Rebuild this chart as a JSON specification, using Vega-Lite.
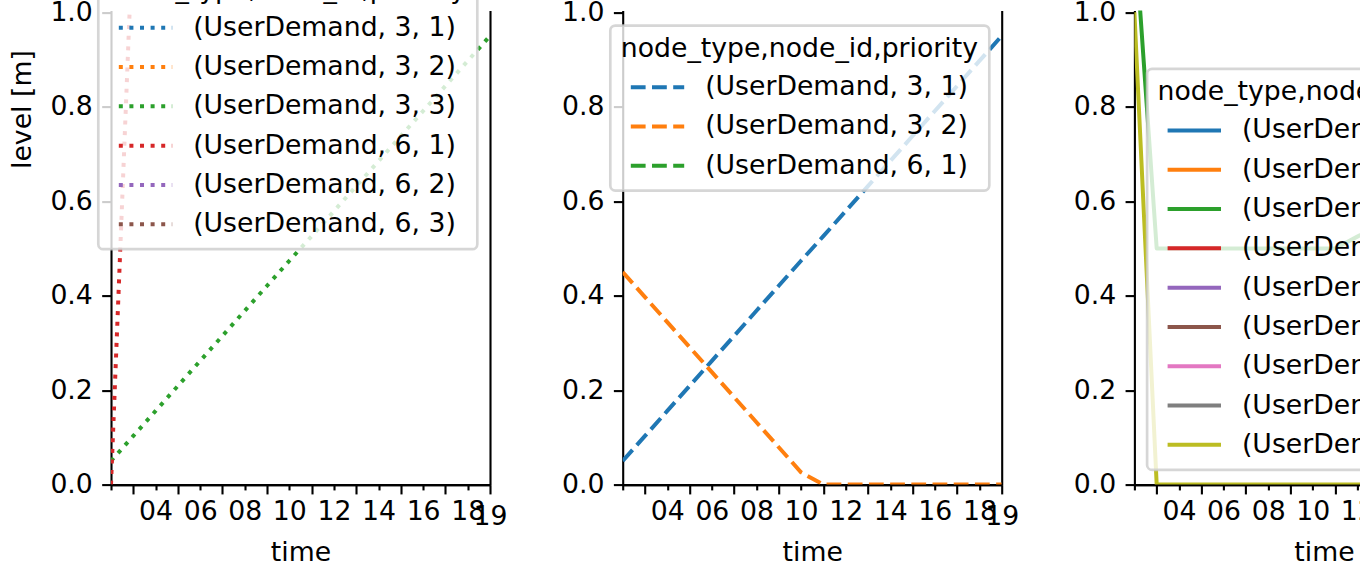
{
  "$schema": "https://vega.github.io/schema/vega-lite/v6.json",
  "background": "white",
  "padding": {"left": 9, "top": -35.4, "right": 0, "bottom": 5},
  "bounds": "flush",
  "spacing": 132.7,
  "config": {
    "font": "DejaVu Sans",
    "view": {"stroke": null},
    "axis": {
      "domainColor": "black", "domainWidth": 2.1, "tickColor": "black", "tickWidth": 2.1,
      "labelColor": "black", "labelFontSize": 26.7, "titleColor": "black", "titleFontSize": 26.7,
      "titleFontWeight": "normal", "grid": false, "zindex": 1,
      "labelFlush": false, "labelOverlap": false, "labelBound": false
    },
    "legend": {
      "direction": "vertical",
      "titleFontSize": 26.7, "titleFontWeight": "normal", "titleColor": "black", "titleLimit": 2000, "titlePadding": 11,
      "labelFontSize": 26.7, "labelColor": "black", "labelLimit": 2000, "labelOffset": 34.3,
      "symbolType": "M-2.427,0H2.427", "symbolSize": 484, "symbolStrokeWidth": 4, "symbolOffset": 23.35,
      "rowPadding": 11.3, "padding": 10.5,
      "fillColor": "rgba(255,255,255,0.8)", "strokeColor": "rgba(204,204,204,0.8)", "cornerRadius": 5, "strokeWidth": 2.67,
      "zindex": 2
    }
  },
  "resolve": {"scale": {"color": "independent", "x": "independent", "y": "independent"}},
  "hconcat": [
    {
      "width": 379, "height": 474,
      "data": {"values": [
        {"series": "(UserDemand, 3, 3)", "time": 2, "level": 0.05},
        {"series": "(UserDemand, 3, 3)", "time": 3, "level": 0.103},
        {"series": "(UserDemand, 3, 3)", "time": 4, "level": 0.156},
        {"series": "(UserDemand, 3, 3)", "time": 5, "level": 0.209},
        {"series": "(UserDemand, 3, 3)", "time": 6, "level": 0.262},
        {"series": "(UserDemand, 3, 3)", "time": 7, "level": 0.315},
        {"series": "(UserDemand, 3, 3)", "time": 8, "level": 0.368},
        {"series": "(UserDemand, 3, 3)", "time": 9, "level": 0.421},
        {"series": "(UserDemand, 3, 3)", "time": 10, "level": 0.474},
        {"series": "(UserDemand, 3, 3)", "time": 11, "level": 0.526},
        {"series": "(UserDemand, 3, 3)", "time": 12, "level": 0.579},
        {"series": "(UserDemand, 3, 3)", "time": 13, "level": 0.632},
        {"series": "(UserDemand, 3, 3)", "time": 14, "level": 0.685},
        {"series": "(UserDemand, 3, 3)", "time": 15, "level": 0.738},
        {"series": "(UserDemand, 3, 3)", "time": 16, "level": 0.791},
        {"series": "(UserDemand, 3, 3)", "time": 17, "level": 0.844},
        {"series": "(UserDemand, 3, 3)", "time": 18, "level": 0.897},
        {"series": "(UserDemand, 3, 3)", "time": 19, "level": 0.95},
        {"series": "(UserDemand, 6, 1)", "time": 2, "level": 0.0},
        {"series": "(UserDemand, 6, 1)", "time": 3, "level": 1.2}
      ]},
      "layer": [
        {
          "mark": {"type": "line", "strokeWidth": 4, "strokeDash": [4, 6.6], "clip": true, "strokeJoin": "round"},
          "encoding": {
            "x": {"field": "time", "type": "quantitative",
              "scale": {"domain": [2, 19], "nice": false, "zero": false},
              "axis": {"orient": "bottom", "values": [2, 4, 6, 8, 10, 12, 14, 16, 18], "tickSize": 5.33, "labelPadding": 9.07,
                "labelExpr": "datum.value == 2 ? '' : (datum.value < 10 ? '0' + datum.value : '' + datum.value)",
                "title": "time", "titleY": 76, "titleBaseline": "alphabetic"}},
            "y": {"field": "level", "type": "quantitative",
              "scale": {"domain": [0, 1.0036], "nice": false, "zero": false},
              "axis": {"orient": "left", "values": [0, 0.2, 0.4, 0.6, 0.8, 1.0], "format": ".1f", "tickSize": 9.33, "labelPadding": 9.33,
                "title": "level [m]", "titleX": -80.2, "titleY": 98.5, "titleAngle": -90, "titleBaseline": "alphabetic", "titleAlign": "center"}},
            "color": {"field": "series", "type": "nominal",
              "scale": {"domain": ["(UserDemand, 3, 1)", "(UserDemand, 3, 2)", "(UserDemand, 3, 3)", "(UserDemand, 6, 1)", "(UserDemand, 6, 2)", "(UserDemand, 6, 3)"],
                "range": ["#1f77b4", "#ff7f0e", "#2ca02c", "#d62728", "#9467bd", "#8c564b"]},
              "legend": {"orient": "none", "legendX": -12.7, "legendY": -44.4, "title": "node_type,node_id,priority", "symbolDash": [4, 6.6]}}
          }
        },
        {
          "transform": [{"filter": "datum.level <= 1"}],
          "mark": {"type": "point", "opacity": 0, "clip": true},
          "encoding": {
            "x": {"field": "time", "type": "quantitative",
              "scale": {"domain": [2, 19], "nice": false, "zero": false},
              "axis": {"orient": "bottom", "values": [3, 5, 7, 9, 11, 13, 15, 17, 19], "tickSize": 9.33, "labelPadding": 9.33,
                "labelExpr": "datum.value == 19 ? '19' : ''", "title": null}},
            "y": {"field": "level", "type": "quantitative",
              "scale": {"domain": [0, 1.0036], "nice": false, "zero": false},
              "axis": {"orient": "right", "ticks": false, "labels": false, "title": null}}
          }
        }
      ],
      "resolve": {"axis": {"x": "independent", "y": "independent"}}
    },
    {
      "width": 379, "height": 474,
      "data": {"values": [
        {"series": "(UserDemand, 3, 1)", "time": 2, "level": 0.05},
        {"series": "(UserDemand, 3, 1)", "time": 3, "level": 0.103},
        {"series": "(UserDemand, 3, 1)", "time": 4, "level": 0.156},
        {"series": "(UserDemand, 3, 1)", "time": 5, "level": 0.209},
        {"series": "(UserDemand, 3, 1)", "time": 6, "level": 0.262},
        {"series": "(UserDemand, 3, 1)", "time": 7, "level": 0.315},
        {"series": "(UserDemand, 3, 1)", "time": 8, "level": 0.368},
        {"series": "(UserDemand, 3, 1)", "time": 9, "level": 0.421},
        {"series": "(UserDemand, 3, 1)", "time": 10, "level": 0.474},
        {"series": "(UserDemand, 3, 1)", "time": 11, "level": 0.526},
        {"series": "(UserDemand, 3, 1)", "time": 12, "level": 0.579},
        {"series": "(UserDemand, 3, 1)", "time": 13, "level": 0.632},
        {"series": "(UserDemand, 3, 1)", "time": 14, "level": 0.685},
        {"series": "(UserDemand, 3, 1)", "time": 15, "level": 0.738},
        {"series": "(UserDemand, 3, 1)", "time": 16, "level": 0.791},
        {"series": "(UserDemand, 3, 1)", "time": 17, "level": 0.844},
        {"series": "(UserDemand, 3, 1)", "time": 18, "level": 0.897},
        {"series": "(UserDemand, 3, 1)", "time": 19, "level": 0.95},
        {"series": "(UserDemand, 3, 2)", "time": 2, "level": 0.45},
        {"series": "(UserDemand, 3, 2)", "time": 3, "level": 0.397},
        {"series": "(UserDemand, 3, 2)", "time": 4, "level": 0.344},
        {"series": "(UserDemand, 3, 2)", "time": 5, "level": 0.291},
        {"series": "(UserDemand, 3, 2)", "time": 6, "level": 0.238},
        {"series": "(UserDemand, 3, 2)", "time": 7, "level": 0.185},
        {"series": "(UserDemand, 3, 2)", "time": 8, "level": 0.132},
        {"series": "(UserDemand, 3, 2)", "time": 9, "level": 0.079},
        {"series": "(UserDemand, 3, 2)", "time": 10, "level": 0.026},
        {"series": "(UserDemand, 3, 2)", "time": 11, "level": 0.0},
        {"series": "(UserDemand, 3, 2)", "time": 12, "level": 0.0},
        {"series": "(UserDemand, 3, 2)", "time": 13, "level": 0.0},
        {"series": "(UserDemand, 3, 2)", "time": 14, "level": 0.0},
        {"series": "(UserDemand, 3, 2)", "time": 15, "level": 0.0},
        {"series": "(UserDemand, 3, 2)", "time": 16, "level": 0.0},
        {"series": "(UserDemand, 3, 2)", "time": 17, "level": 0.0},
        {"series": "(UserDemand, 3, 2)", "time": 18, "level": 0.0},
        {"series": "(UserDemand, 3, 2)", "time": 19, "level": 0.0}
      ]},
      "layer": [
        {
          "mark": {"type": "line", "strokeWidth": 4, "strokeDash": [14.8, 6.4], "clip": true, "strokeJoin": "round"},
          "encoding": {
            "x": {"field": "time", "type": "quantitative",
              "scale": {"domain": [2, 19], "nice": false, "zero": false},
              "axis": {"orient": "bottom", "values": [2, 4, 6, 8, 10, 12, 14, 16, 18], "tickSize": 5.33, "labelPadding": 9.07,
                "labelExpr": "datum.value == 2 ? '' : (datum.value < 10 ? '0' + datum.value : '' + datum.value)",
                "title": "time", "titleY": 76, "titleBaseline": "alphabetic"}},
            "y": {"field": "level", "type": "quantitative",
              "scale": {"domain": [0, 1.0036], "nice": false, "zero": false},
              "axis": {"orient": "left", "values": [0, 0.2, 0.4, 0.6, 0.8, 1.0], "format": ".1f", "tickSize": 9.33, "labelPadding": 9.33, "title": null}},
            "color": {"field": "series", "type": "nominal",
              "scale": {"domain": ["(UserDemand, 3, 1)", "(UserDemand, 3, 2)", "(UserDemand, 6, 1)"],
                "range": ["#1f77b4", "#ff7f0e", "#2ca02c"]},
              "legend": {"orient": "none", "legendX": -12.4, "legendY": 15, "title": "node_type,node_id,priority", "symbolDash": [14.8, 6.4]}}
          }
        },
        {
          "transform": [{"filter": "datum.level <= 1"}],
          "mark": {"type": "point", "opacity": 0, "clip": true},
          "encoding": {
            "x": {"field": "time", "type": "quantitative",
              "scale": {"domain": [2, 19], "nice": false, "zero": false},
              "axis": {"orient": "bottom", "values": [3, 5, 7, 9, 11, 13, 15, 17, 19], "tickSize": 9.33, "labelPadding": 9.33,
                "labelExpr": "datum.value == 19 ? '19' : ''", "title": null}},
            "y": {"field": "level", "type": "quantitative",
              "scale": {"domain": [0, 1.0036], "nice": false, "zero": false},
              "axis": {"orient": "right", "ticks": false, "labels": false, "title": null}}
          }
        }
      ],
      "resolve": {"axis": {"x": "independent", "y": "independent"}}
    },
    {
      "width": 379, "height": 474,
      "data": {"values": [
        {"series": "(UserDemand, 3, 3)", "time": 2, "level": 1.18},
        {"series": "(UserDemand, 3, 3)", "time": 3, "level": 0.5},
        {"series": "(UserDemand, 3, 3)", "time": 4, "level": 0.5},
        {"series": "(UserDemand, 3, 3)", "time": 5, "level": 0.5},
        {"series": "(UserDemand, 3, 3)", "time": 6, "level": 0.5},
        {"series": "(UserDemand, 3, 3)", "time": 7, "level": 0.5},
        {"series": "(UserDemand, 3, 3)", "time": 8, "level": 0.5},
        {"series": "(UserDemand, 3, 3)", "time": 9, "level": 0.5},
        {"series": "(UserDemand, 3, 3)", "time": 10, "level": 0.5},
        {"series": "(UserDemand, 3, 3)", "time": 11, "level": 0.5},
        {"series": "(UserDemand, 3, 3)", "time": 12, "level": 0.525},
        {"series": "(UserDemand, 3, 3)", "time": 13, "level": 0.55},
        {"series": "(UserDemand, 13, 3)", "time": 2, "level": 1.0},
        {"series": "(UserDemand, 13, 3)", "time": 3, "level": 0.0},
        {"series": "(UserDemand, 13, 3)", "time": 4, "level": 0.0},
        {"series": "(UserDemand, 13, 3)", "time": 5, "level": 0.0},
        {"series": "(UserDemand, 13, 3)", "time": 6, "level": 0.0},
        {"series": "(UserDemand, 13, 3)", "time": 7, "level": 0.0},
        {"series": "(UserDemand, 13, 3)", "time": 8, "level": 0.0},
        {"series": "(UserDemand, 13, 3)", "time": 9, "level": 0.0},
        {"series": "(UserDemand, 13, 3)", "time": 10, "level": 0.0},
        {"series": "(UserDemand, 13, 3)", "time": 11, "level": 0.0},
        {"series": "(UserDemand, 13, 3)", "time": 12, "level": 0.0},
        {"series": "(UserDemand, 13, 3)", "time": 13, "level": 0.0},
        {"series": "(UserDemand, 13, 3)", "time": 14, "level": 0.0},
        {"series": "(UserDemand, 13, 3)", "time": 15, "level": 0.0},
        {"series": "(UserDemand, 13, 3)", "time": 16, "level": 0.0},
        {"series": "(UserDemand, 13, 3)", "time": 17, "level": 0.0},
        {"series": "(UserDemand, 13, 3)", "time": 18, "level": 0.0},
        {"series": "(UserDemand, 13, 3)", "time": 19, "level": 0.0}
      ]},
      "layer": [
        {
          "mark": {"type": "line", "strokeWidth": 4, "clip": true, "strokeJoin": "round"},
          "encoding": {
            "x": {"field": "time", "type": "quantitative",
              "scale": {"domain": [2, 19], "nice": false, "zero": false},
              "axis": {"orient": "bottom", "values": [2, 4, 6, 8, 10, 12, 14, 16, 18], "tickSize": 5.33, "labelPadding": 9.07,
                "labelExpr": "datum.value == 2 ? '' : (datum.value < 10 ? '0' + datum.value : '' + datum.value)",
                "title": "time", "titleY": 76, "titleBaseline": "alphabetic"}},
            "y": {"field": "level", "type": "quantitative",
              "scale": {"domain": [0, 1.0036], "nice": false, "zero": false},
              "axis": {"orient": "left", "values": [0, 0.2, 0.4, 0.6, 0.8, 1.0], "format": ".1f", "tickSize": 9.33, "labelPadding": 9.33, "title": null}},
            "color": {"field": "series", "type": "nominal",
              "scale": {"domain": ["(UserDemand, 3, 1)", "(UserDemand, 3, 2)", "(UserDemand, 3, 3)", "(UserDemand, 6, 1)", "(UserDemand, 6, 2)", "(UserDemand, 6, 3)", "(UserDemand, 13, 1)", "(UserDemand, 13, 2)", "(UserDemand, 13, 3)"],
                "range": ["#1f77b4", "#ff7f0e", "#2ca02c", "#d62728", "#9467bd", "#8c564b", "#e377c2", "#7f7f7f", "#bcbd22"]},
              "legend": {"orient": "none", "legendX": 12.7, "legendY": 58.3, "title": "node_type,node_id,priority"}}
          }
        },
        {
          "transform": [{"filter": "datum.level <= 1"}],
          "mark": {"type": "point", "opacity": 0, "clip": true},
          "encoding": {
            "x": {"field": "time", "type": "quantitative",
              "scale": {"domain": [2, 19], "nice": false, "zero": false},
              "axis": {"orient": "bottom", "values": [3, 5, 7, 9, 11, 13, 15, 17, 19], "tickSize": 9.33, "labelPadding": 9.33,
                "labelExpr": "datum.value == 19 ? '19' : ''", "title": null}},
            "y": {"field": "level", "type": "quantitative",
              "scale": {"domain": [0, 1.0036], "nice": false, "zero": false},
              "axis": {"orient": "right", "ticks": false, "labels": false, "title": null}}
          }
        }
      ],
      "resolve": {"axis": {"x": "independent", "y": "independent"}}
    }
  ]
}
